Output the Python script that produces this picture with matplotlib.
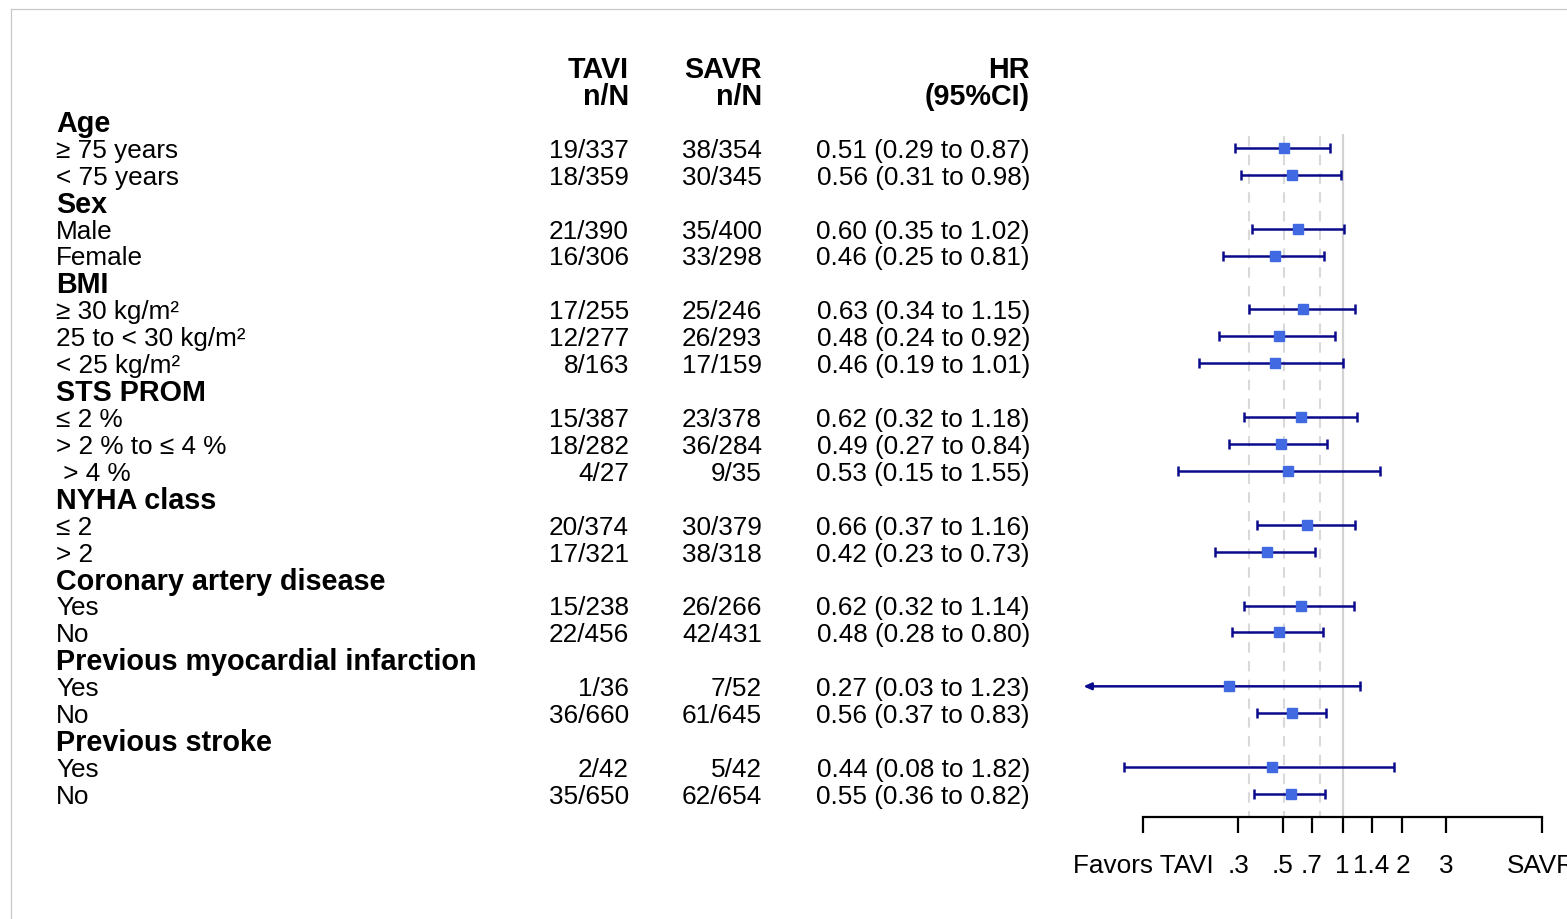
import matplotlib
matplotlib.use("Agg")
import matplotlib.pyplot as plt
import numpy as np
from matplotlib.transforms import blended_transform_factory
from matplotlib.lines import Line2D
from matplotlib.ticker import FixedLocator, FixedFormatter, NullLocator

plt.rcParams["font.family"] = ["Liberation Sans", "DejaVu Sans"]

# ---- data -------------------------------------------------------------
labels = [
    "Age", "≥ 75 years", "< 75 years",
    "Sex", "Male", "Female",
    "BMI", "≥ 30 kg/m²", "25 to < 30 kg/m²", "< 25 kg/m²",
    "STS PROM", "≤ 2 %", "> 2 % to ≤ 4 %", " > 4 %",
    "NYHA class", "≤ 2", "> 2",
    "Coronary artery disease", "Yes", "No",
    "Previous myocardial infarction", "Yes", "No",
    "Previous stroke", "Yes", "No",
]
is_header = [True, False, False,
             True, False, False,
             True, False, False, False,
             True, False, False, False,
             True, False, False,
             True, False, False,
             True, False, False,
             True, False, False]
tavi = [None, "19/337", "18/359",
        None, "21/390", "16/306",
        None, "17/255", "12/277", "8/163",
        None, "15/387", "18/282", "4/27",
        None, "20/374", "17/321",
        None, "15/238", "22/456",
        None, "1/36", "36/660",
        None, "2/42", "35/650"]
savr = [None, "38/354", "30/345",
        None, "35/400", "33/298",
        None, "25/246", "26/293", "17/159",
        None, "23/378", "36/284", "9/35",
        None, "30/379", "38/318",
        None, "26/266", "42/431",
        None, "7/52", "61/645",
        None, "5/42", "62/654"]
hr = [None, 0.51, 0.56,
      None, 0.60, 0.46,
      None, 0.63, 0.48, 0.46,
      None, 0.62, 0.49, 0.53,
      None, 0.66, 0.42,
      None, 0.62, 0.48,
      None, 0.27, 0.56,
      None, 0.44, 0.55]
ci_low = [None, 0.29, 0.31,
          None, 0.35, 0.25,
          None, 0.34, 0.24, 0.19,
          None, 0.32, 0.27, 0.15,
          None, 0.37, 0.23,
          None, 0.32, 0.28,
          None, 0.03, 0.37,
          None, 0.08, 0.36]
ci_high = [None, 0.87, 0.98,
           None, 1.02, 0.81,
           None, 1.15, 0.92, 1.01,
           None, 1.18, 0.84, 1.55,
           None, 1.16, 0.73,
           None, 1.14, 0.80,
           None, 1.23, 0.83,
           None, 1.82, 0.82]

# overall estimate shown as reference lines
overall = [0.34, 0.51, 0.77]

tick_vals = [0.1, 0.3, 0.5, 0.7, 1, 1.4, 2, 3.3, 10]
tick_text = ["Favors TAVI", ".3", ".5", ".7", "1", "1.4", "2", "3", "SAVR"]

# ---- layout -----------------------------------------------------------
W, H, DPI = 1567, 920, 100
fig = plt.figure(figsize=(W / DPI, H / DPI), dpi=DPI)

FS = 18.8
FS_BOLD = 20.7
NAVY = "#0a0a8c"
BLUE = "#4169E1"

row0_px, row_step = 122.0, 26.92
top_px, axis_px = 40.0, 817.7
ax_left_px = 1083.4
ax = fig.add_axes([ax_left_px / W, 1 - axis_px / H,
                   (W - ax_left_px) / W, (axis_px - top_px) / H])
ax.set_xscale("log")
xmin, xmax = 0.05, 13.4
ax.set_xlim(xmin, xmax)
ylo = (axis_px - row0_px) / row_step
yhi = -(row0_px - top_px) / row_step
ax.set_ylim(ylo, yhi)
ax.patch.set_visible(False)

for s in ["top", "right", "left"]:
    ax.spines[s].set_visible(False)
ax.spines["bottom"].set_bounds(tick_vals[0], tick_vals[-1])
ax.spines["bottom"].set_linewidth(1.6)
ax.set_yticks([])
ax.xaxis.set_major_locator(FixedLocator(tick_vals))
ax.xaxis.set_major_formatter(FixedFormatter(tick_text))
ax.xaxis.set_minor_locator(NullLocator())
ax.tick_params(axis="x", direction="out", length=11.5, width=1.6,
               labelsize=FS, pad=14.5)

# reference lines
ax.vlines(1, 0.5, ylo, color="#d2d2d2", lw=1.6, zorder=1)
for v in overall:
    ax.vlines(v, 0.55, ylo, color="#d9d9d9", lw=1.5,
              linestyles=(0, (5, 4)), zorder=1)

# estimates
for i, (h, lo, hi) in enumerate(zip(hr, ci_low, ci_high)):
    if h is None:
        continue
    if lo < xmin:
        ax.annotate("", xy=(xmin, i), xytext=(hi, i),
                    arrowprops=dict(arrowstyle="-|>,head_length=0.45,head_width=0.2",
                                    color=NAVY, lw=1.8, shrinkA=0, shrinkB=0),
                    zorder=2)
        ax.plot([hi], [i], marker="|", ms=7.2, mew=1.8, color=NAVY, zorder=2)
    else:
        ax.errorbar([h], [i], xerr=[[h - lo], [hi - h]], fmt="none",
                    ecolor=NAVY, elinewidth=1.8, capsize=3.6, capthick=1.8,
                    zorder=2)
    ax.plot([h], [i], marker="s", ms=7, color=BLUE, mec=BLUE, zorder=3)

# ---- text columns -----------------------------------------------------
tr = blended_transform_factory(fig.transFigure, ax.transData)
x_lab, x_tavi, x_savr, x_hr = 56 / W, 629 / W, 762 / W, 1030 / W
dy = 0.07  # small downward nudge so text sits centred on each row

for x, top, bot in [(x_tavi, "TAVI", "n/N"), (x_savr, "SAVR", "n/N"),
                    (x_hr, "HR", "(95%CI)")]:
    ax.text(x, -2 + dy, top, transform=tr, ha="right", va="center",
            fontsize=FS_BOLD, fontweight="bold", clip_on=False)
    ax.text(x, -1 + dy, bot, transform=tr, ha="right", va="center",
            fontsize=FS_BOLD, fontweight="bold", clip_on=False)

for i, lab in enumerate(labels):
    if is_header[i]:
        ax.text(x_lab, i + dy, lab, transform=tr, ha="left", va="center",
                fontsize=FS_BOLD, fontweight="bold", clip_on=False)
        continue
    ax.text(x_lab, i + dy, lab, transform=tr, ha="left", va="center",
            fontsize=FS, clip_on=False)
    ax.text(x_tavi, i + dy, tavi[i], transform=tr, ha="right", va="center",
            fontsize=FS, clip_on=False)
    ax.text(x_savr, i + dy, savr[i], transform=tr, ha="right", va="center",
            fontsize=FS, clip_on=False)
    ax.text(x_hr, i + dy, f"{hr[i]:.2f} ({ci_low[i]:.2f} to {ci_high[i]:.2f})",
            transform=tr, ha="right", va="center", fontsize=FS, clip_on=False)

# thin frame around the graph region
fig.add_artist(Line2D([11 / W, 1.0], [1 - 10 / H, 1 - 10 / H],
                      transform=fig.transFigure, color="#c8c8c8", lw=0.9))
fig.add_artist(Line2D([11 / W, 11 / W], [0.0, 1 - 10 / H],
                      transform=fig.transFigure, color="#c8c8c8", lw=0.9))

fig.savefig("out.png", dpi=DPI, facecolor="white")
